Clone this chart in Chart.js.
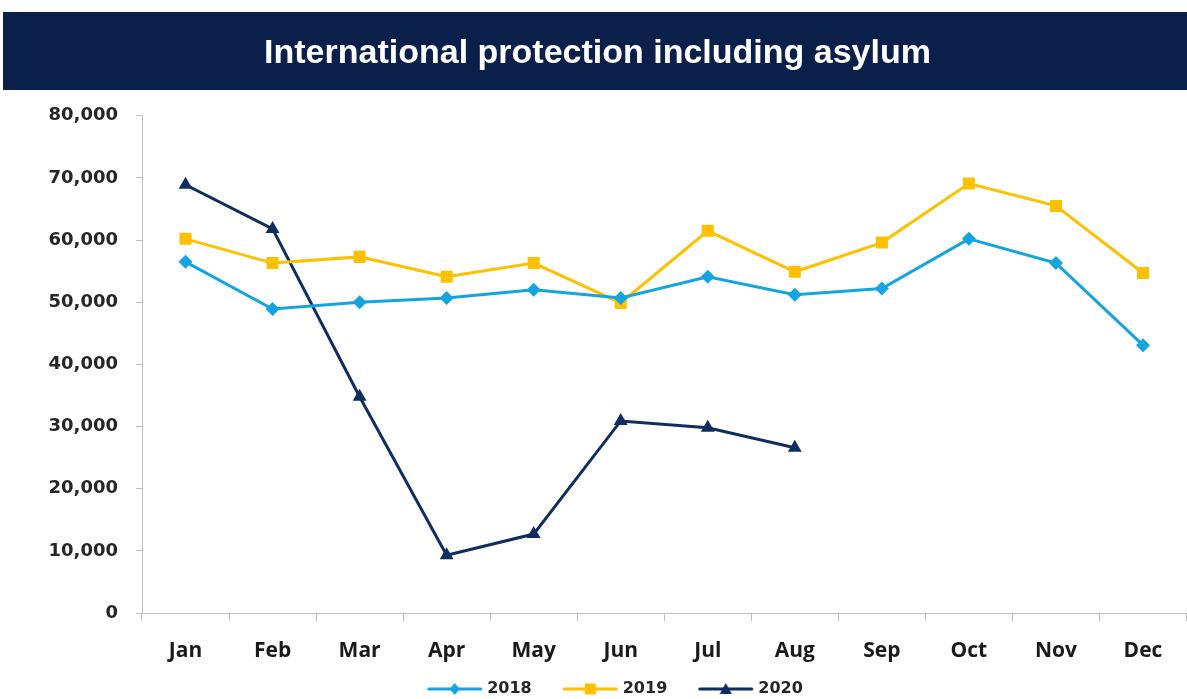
<!DOCTYPE html>
<html>
<head>
<meta charset="utf-8">
<script src="https://cdn.jsdelivr.net/npm/chart.js@4/dist/chart.umd.min.js"></script>
<style>
  html, body { margin: 0; padding: 0; background: #ffffff; overflow: hidden; }
  #wrap { position: relative; width: 1187px; height: 699px; overflow: hidden; }
</style>
</head>
<body>
<div id="wrap"><canvas id="c" width="1195" height="707"></canvas></div>
<script>
const categories = ['Jan', 'Feb', 'Mar', 'Apr', 'May', 'Jun', 'Jul', 'Aug', 'Sep', 'Oct', 'Nov', 'Dec'];
const series2018 = [56500, 48900, 50000, 50700, 52000, 50700, 54100, 51200, 52200, 60200, 56300, 43100];
const series2019 = [60200, 56300, 57300, 54100, 56300, 49900, 61500, 54900, 59600, 69100, 65500, 54700];
const series2020 = [68900, 61800, 34800, 9300, 12700, 30900, 29800, 26600];
const seriesNames = ['2018', '2019', '2020'];
const yTicks = [0, 10000, 20000, 30000, 40000, 50000, 60000, 70000, 80000];
const titleText = 'International protection including asylum';

const colors = ['#14a5e0', '#ffc000', '#0f2d5e'];
const styles = ['rectRot', 'rect', 'triangle'];
const radii = [7, 8.5, 8];

function legendImage(color, style) {
  const w = 83, h = 16;
  const cv = document.createElement('canvas');
  cv.width = w; cv.height = h;
  const ctx = cv.getContext('2d');
  const x0 = 26, x1 = 81, cy = h / 2, cx = (x0 + x1) / 2;
  ctx.strokeStyle = color; ctx.lineWidth = 3; ctx.lineCap = 'round';
  ctx.beginPath(); ctx.moveTo(x0 + 1.5, cy); ctx.lineTo(x1 - 1.5, cy); ctx.stroke();
  ctx.fillStyle = color;
  ctx.beginPath();
  if (style === 'rectRot') {
    ctx.moveTo(cx, cy - 6); ctx.lineTo(cx + 5, cy); ctx.lineTo(cx, cy + 6); ctx.lineTo(cx - 5, cy);
  } else if (style === 'rect') {
    ctx.rect(cx - 5.5, cy - 5.5, 11, 11);
  } else {
    ctx.moveTo(cx, cy - 6); ctx.lineTo(cx + 6, cy + 5); ctx.lineTo(cx - 6, cy + 5);
  }
  ctx.closePath(); ctx.fill();
  return cv;
}

const titleBg = {
  id: 'titleBg',
  beforeDraw(chart) {
    const ctx = chart.ctx;
    ctx.save();
    ctx.fillStyle = '#0b1f4b';
    ctx.fillRect(3, 12, chart.width - 3, 78);
    ctx.restore();
  },
  afterLayout(chart) {
    if (chart.legend) { chart.legend.left += 7; chart.legend.right += 7; }
  }
};

const data = {
  labels: categories,
  datasets: [series2018, series2019, series2020].map((vals, i) => ({
    label: seriesNames[i],
    data: vals,
    borderColor: colors[i],
    backgroundColor: colors[i],
    borderWidth: 3,
    pointStyle: styles[i],
    pointRadius: radii[i],
    pointBorderWidth: 0,
    pointHoverRadius: radii[i],
    tension: 0,
    fill: false
  }))
};

new Chart(document.getElementById('c'), {
  type: 'line',
  data,
  plugins: [titleBg],
  options: {
    responsive: false,
    animation: false,
    devicePixelRatio: 1,
    layout: { padding: { left: 0, right: 0, top: 0, bottom: 0 } },
    plugins: {
      title: {
        display: true,
        text: titleText,
        color: '#ffffff',
        font: { family: 'Liberation Sans', size: 34, weight: 'bold' },
        padding: { top: 33, bottom: 42 }
      },
      legend: {
        display: true,
        position: 'bottom',
        labels: {
          usePointStyle: true,
          pointStyleWidth: 73,
          generateLabels(chart) {
            return chart.data.datasets.map((ds, i) => ({
              text: ds.label,
              pointStyle: legendImage(colors[i], styles[i]),
              fillStyle: colors[i],
              strokeStyle: colors[i],
              lineWidth: 0,
              hidden: false,
              datasetIndex: i,
              fontColor: '#262626'
            }));
          },
          color: '#262626',
          font: { family: 'DejaVu Sans', size: 16, weight: 'bold' },
          padding: 10
        }
      },
      tooltip: { enabled: false }
    },
    scales: {
      x: {
        offset: true,
        afterFit(scale) { scale.height = 58; },
        grid: { display: true, offset: true, drawOnChartArea: false, drawTicks: true, tickLength: 8, color: '#bfbfbf', lineWidth: 1 },
        border: { display: true, color: '#bfbfbf', width: 1 },
        ticks: {
          color: '#1a1a1a',
          font: { family: 'Open Sans', size: 21, weight: 'bold' },
          padding: 17,
          maxRotation: 0,
          autoSkip: false
        }
      },
      y: {
        min: 0,
        max: 80000,
        afterFit(scale) { scale.width = 142; },
        afterBuildTicks(scale) { scale.ticks = yTicks.map(v => ({ value: v })); },
        grid: { display: true, drawOnChartArea: false, drawTicks: true, tickLength: 6, color: '#bfbfbf', lineWidth: 1 },
        border: { display: true, color: '#bfbfbf', width: 1 },
        ticks: {
          color: '#262626',
          font: { family: 'DejaVu Sans', size: 18, weight: 'bold' },
          padding: 18,
          callback: v => v.toLocaleString('en-US')
        }
      }
    }
  }
});
</script>
</body>
</html>
